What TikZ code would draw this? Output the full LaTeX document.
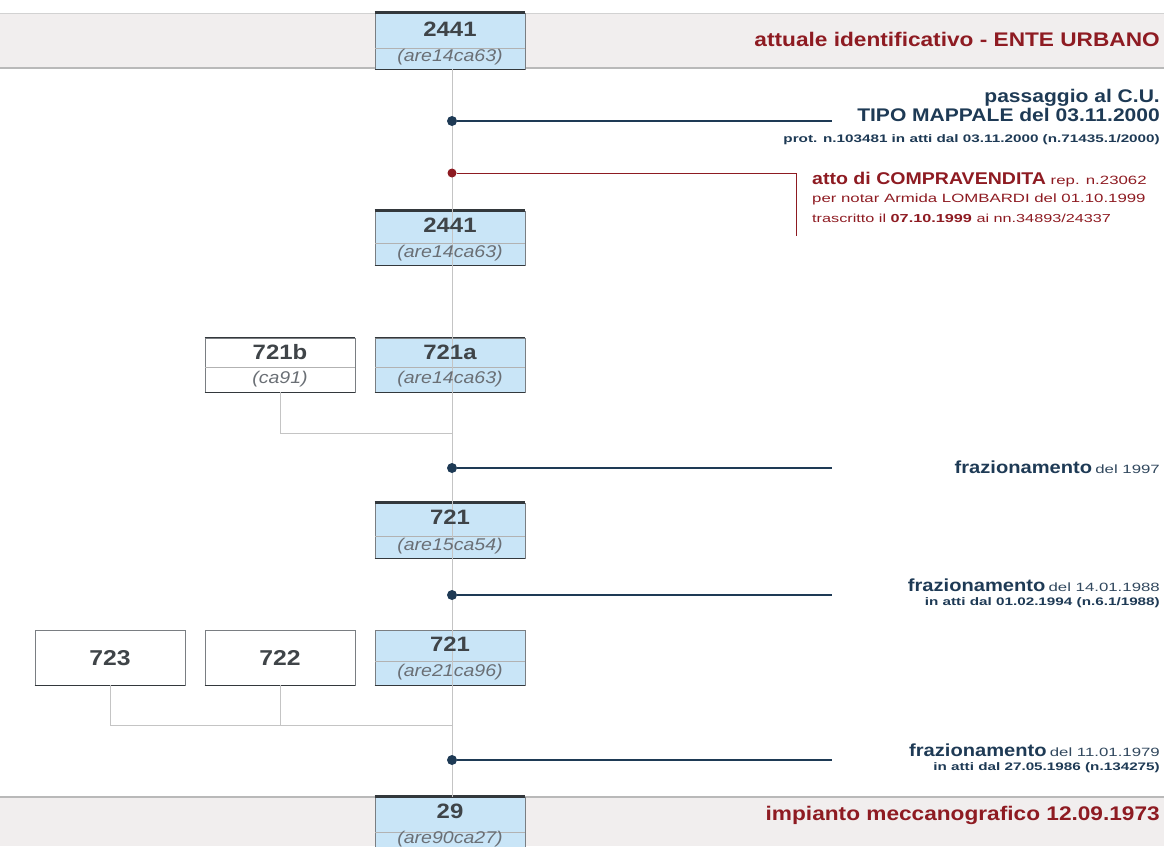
\documentclass[tikz,border=0pt]{standalone}
\usepackage{fontspec}
\setmainfont{Liberation Sans}[FakeStretch=1.15]
\newfontfamily\widefont{Liberation Sans}[FakeStretch=1.4]
\definecolor{navy}{HTML}{1E3A55}
\definecolor{boxblue}{HTML}{C9E5F7}
\definecolor{bandgray}{HTML}{F1EEEE}
\definecolor{dred}{HTML}{8E1B22}
\definecolor{numgray}{HTML}{3F4448}
\definecolor{subgray}{HTML}{6A6F75}
\definecolor{vline}{HTML}{C4C4C4}
\definecolor{edgegray}{HTML}{7A7E82}
\definecolor{topdark}{HTML}{33383C}
\tikzset{
  x=1pt, y=-1pt,
  parcel/.style={draw=edgegray, line width=0.9pt, minimum width=150pt, minimum height=#1, inner sep=0pt, fill=boxblue},
  parcel/.default=55pt,
  whitebox/.style={parcel=#1, fill=white},
  whitebox/.default=55pt,
  topedge/.style={draw=topdark, line width=2.2pt},
  botedge/.style={draw=topdark, line width=1.2pt},
  splitline/.style={draw=gray!60, line width=0.6pt},
  num/.style={font=\fontsize{20.8}{22}\selectfont\bfseries, text=numgray, inner sep=0pt},
  bignum/.style={font=\fontsize{21.5}{23}\selectfont\bfseries, text=numgray, inner sep=0pt},
  sub/.style={font=\fontsize{17}{19}\selectfont\itshape, text=subgray, inner sep=0pt},
  trunk/.style={draw=vline, line width=1pt},
  link/.style={draw=vline, line width=1pt},
  evdot/.style={circle, fill=navy, minimum size=10pt, inner sep=0pt},
  reddot/.style={circle, fill=dred, minimum size=9pt, inner sep=0pt},
  evline/.style={draw=navy, line width=2.4pt},
  redline/.style={draw=dred, line width=0.9pt},
  rlabel/.style={anchor=east, inner sep=0pt, text=navy},
  bandlabel/.style={anchor=east, inner sep=0pt, text=dred, font=\fontsize{19.7}{22}\selectfont\bfseries},
  smallnote/.style={rlabel, font=\widefont\fontsize{10.9}{12}\selectfont\bfseries},
  redtext/.style={anchor=west, inner sep=0pt, text=dred, font=\widefont\fontsize{12}{14}\selectfont},
}
\newcommand{\frazlabel}[1]{{\fontsize{17.5}{19}\selectfont\bfseries frazionamento}\ {\widefont\fontsize{12}{14}\selectfont\color{navy!80!gray}del #1}}
\begin{document}
\begin{tikzpicture}
\useasboundingbox (0,0) rectangle (1164,846);
% bands
\fill[bandgray] (0,13) rectangle (1164,68);
\draw[gray!35, line width=1pt] (0,13) -- (1164,13);
\draw[gray!55, line width=1.5pt] (0,68) -- (1164,68);
\fill[bandgray] (0,797) rectangle (1164,846);
\draw[gray!55, line width=1.5pt] (0,797) -- (1164,797);

% boxes
\node[parcel=56pt] (A) at (450,41) {};
\node[parcel=54pt] (B) at (450,238) {};
\node[whitebox=54pt] (C) at (280,365) {};
\node[parcel=54pt] (D) at (450,365) {};
\node[parcel=55pt] (E) at (450,530.5) {};
\node[whitebox=55pt] (F) at (110,657.5) {};
\node[whitebox=55pt] (G) at (280,657.5) {};
\node[parcel=55pt] (H) at (450,657.5) {};
\node[parcel=52pt] (I) at (450,823) {};

% split lines
\draw[splitline] (375,48) -- (525,48);
\draw[splitline] (375,243) -- (525,243);
\draw[splitline] (205,367) -- (355,367);
\draw[splitline] (375,367) -- (525,367);
\draw[splitline] (375,536) -- (525,536);
\draw[splitline] (375,661) -- (525,661);
\draw[splitline] (375,832) -- (525,832);

% dark top and bottom edges
\draw[topedge] (A.north west) -- (A.north east);
\draw[topedge] (B.north west) -- (B.north east);
\draw[topedge] (E.north west) -- (E.north east);
\draw[topedge] (I.north west) -- (I.north east);
\draw[botedge] (C.north west) -- (C.north east);
\draw[botedge] (D.north west) -- (D.north east);
\draw[botedge] (C.south west) -- (C.south east);
\draw[botedge] (D.south west) -- (D.south east);
\draw[botedge] (F.south west) -- (F.south east);
\draw[botedge] (G.south west) -- (G.south east);
\draw[botedge] (H.south west) -- (H.south east);
\draw[botedge] (E.south west) -- (E.south east);
\draw[botedge] (B.south west) -- (B.south east);
\draw[botedge] (A.south west) -- (A.south east);

% trunk
\coordinate (tTop) at (452,69);
\coordinate (tBot) at (452,797);
\draw[trunk] (tTop) -- (tBot);

% merge connectors
\coordinate (jC) at (280,433);
\coordinate (jD) at (452,433);
\draw[link] (C.south) -- (jC) -- (jD);
\coordinate (jF) at (110,725);
\coordinate (jG) at (280,725);
\coordinate (jH) at (452,725);
\draw[link] (F.south) -- (jF) -- (jH);
\draw[link] (G.south) -- (jG);

% box texts
\node[num] (A1) at (450,29) {2441};
\node[sub] (A2) at (450,57.5) {(are14ca63)};
\node[num] (B1) at (450,225) {2441};
\node[sub] (B2) at (450,253) {(are14ca63)};
\node[num] (C1) at (280,352) {721b};
\node[sub] (C2) at (280,379.5) {(ca91)};
\node[num] (D1) at (450,352) {721a};
\node[sub] (D2) at (450,379.5) {(are14ca63)};
\node[num] (E1) at (450,517) {721};
\node[sub] (E2) at (450,546) {(are15ca54)};
\node[bignum] (F1) at (110,658) {723};
\node[bignum] (G1) at (280,658) {722};
\node[num] (H1) at (450,644) {721};
\node[sub] (H2) at (450,672) {(are21ca96)};
\node[num] (I1) at (450,811) {29};
\node[sub] (I2) at (450,839.5) {(are90ca27)};

% band labels
\node[bandlabel] (topLab) at (1160,39) {attuale identificativo - ENTE URBANO};
\node[bandlabel] (botLab) at (1160,815) {impianto meccanografico 12.09.1973};

% event 1: tipo mappale
\node[evdot] (e1) at (452,121) {};
\coordinate (e1end) at (832,121);
\draw[evline] (e1) -- (e1end);
\node[rlabel, font=\fontsize{18.3}{20}\selectfont\bfseries] (e1a) at (1160,98) {passaggio al C.U.};
\node[rlabel, font=\fontsize{18.3}{20}\selectfont\bfseries] (e1b) at (1160,115) {TIPO MAPPALE del 03.11.2000};
\node[smallnote] (e1c) at (1160,140) {prot. n.103481 in atti dal 03.11.2000 (n.71435.1/2000)};

% event 2: compravendita
\node[reddot] (e2) at (452,173) {};
\coordinate (e2c) at (796,173);
\coordinate (e2d) at (796,236);
\draw[redline] (e2) -- (e2c) -- (e2d);
\node[redtext] (e2a) at (812,180) {{\rmfamily\fontsize{17}{19}\selectfont\bfseries atto di COMPRAVENDITA} {\fontsize{12}{14}\selectfont rep. n.23062}};
\node[redtext] (e2b) at (812,199) {per notar Armida LOMBARDI del 01.10.1999};
\node[redtext, font=\widefont\fontsize{11.6}{13}\selectfont] (e2e) at (812,218) {trascritto il \textbf{07.10.1999} ai nn.34893/24337};

% event 3: frazionamento 1997
\node[evdot] (e3) at (452,468) {};
\coordinate (e3end) at (832,468);
\draw[evline] (e3) -- (e3end);
\node[rlabel] (e3a) at (1160,467) {\frazlabel{1997}};

% event 4: frazionamento 1988
\node[evdot] (e4) at (452,595) {};
\coordinate (e4end) at (832,595);
\draw[evline] (e4) -- (e4end);
\node[rlabel] (e4a) at (1160,585) {\frazlabel{14.01.1988}};
\node[smallnote] (e4b) at (1160,603) {in atti dal 01.02.1994 (n.6.1/1988)};

% event 5: frazionamento 1979
\node[evdot] (e5) at (452,760) {};
\coordinate (e5end) at (832,760);
\draw[evline] (e5) -- (e5end);
\node[rlabel] (e5a) at (1160,750) {\frazlabel{11.01.1979}};
\node[smallnote] (e5b) at (1160,768) {in atti dal 27.05.1986 (n.134275)};
\end{tikzpicture}
\end{document}
